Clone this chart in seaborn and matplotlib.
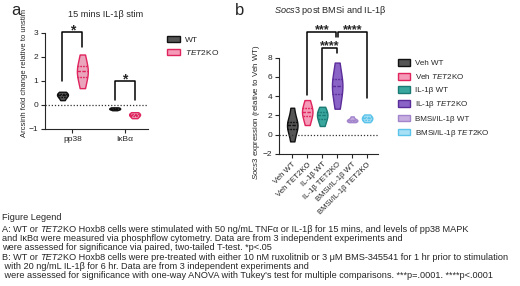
import numpy as np
import pandas as pd
import matplotlib
matplotlib.use("Agg")
import matplotlib.pyplot as plt
import matplotlib.patches as mpatches
from matplotlib.transforms import offset_copy
import seaborn as sns

sns.set_style("ticks")
plt.rcParams['font.family'] = ['Liberation Sans', 'DejaVu Sans']
plt.rcParams['mathtext.fontset'] = 'custom'
plt.rcParams['mathtext.rm'] = 'Liberation Sans'
plt.rcParams['mathtext.it'] = 'Liberation Sans:italic'

# ---- panel a data ----
targets = ['pp38', 'IκBα']
genos = ['WT', 'TET2KO']
a_vals = {
    ('pp38', 'WT'): [0.2, 0.32, 0.4, 0.42, 0.48, 0.55],
    ('pp38', 'TET2KO'): [0.7, 1.1, 1.35, 1.45, 1.7, 2.1],
    ('IκBα', 'WT'): [-0.22, -0.18, -0.16, -0.15, -0.12, -0.1],
    ('IκBα', 'TET2KO'): [-0.55, -0.48, -0.42, -0.4, -0.35, -0.3],
}
a_fill = {'WT': '#555555', 'TET2KO': '#f59ab8'}
a_edge = {'WT': '#111111', 'TET2KO': '#e0245e'}

# ---- panel b data ----
groups = ['Veh WT', 'Veh TET2KO', 'IL-1β WT', 'IL-1β TET2KO',
          'BMSi/IL-1β WT', 'BMSi/IL-1β TET2KO']
legend_b = ['Veh WT', r'Veh $\it{TET2}$KO', 'IL-1β WT', r'IL-1β $\it{TET2}$KO',
            'BMSi/IL-1β WT', r'BMSi/IL-1β $\it{TET2}$KO']
b_vals = [
    [-0.7, 0.5, 0.9, 1.1, 1.4, 2.8],
    [1.0, 1.8, 2.2, 2.5, 2.9, 3.6],
    [0.9, 1.5, 1.9, 2.1, 2.4, 2.9],
    [2.7, 4.0, 4.9, 5.3, 6.0, 7.5],
    [1.3, 1.4, 1.5, 1.5, 1.6, 1.9],
    [1.3, 1.5, 1.65, 1.75, 1.9, 2.1],
]
b_fill = ['#555555', '#f59ab8', '#3aa79e', '#8a63c6', '#c6aee0', '#a8e0f5']
b_edge = ['#111111', '#e0245e', '#1b7b74', '#5b2d9a', '#a385cc', '#5cc4ea']

fig = plt.figure(figsize=(5.2, 2.86), dpi=100)

# ================= panel a =================
axa = fig.add_axes([0.087, 0.549, 0.198, 0.336])
rows = []
for (t, g), v in a_vals.items():
    for x in v:
        rows.append({'target': t, 'geno': g, 'val': x})
dfa = pd.DataFrame(rows)
for g in genos:
    sub = dfa[dfa.geno == g]
    sns.violinplot(data=sub, x='target', y='val', hue='geno', order=targets,
                   hue_order=genos, palette={g: a_fill[g] for g in genos},
                   linecolor=a_edge[g], linewidth=1, inner='quart', cut=0,
                   dodge=True, width=0.76, gap=0.45, density_norm='width',
                   legend=False, ax=axa)
axa.axhline(0, color='#333333', lw=0.9, ls=(0, (1, 1.5)))
axa.set_ylim(-1, 3)
axa.set_xlim(-0.52, 1.45)
axa.set_yticks([-1, 0, 1, 2, 3])
axa.set_xlabel('')
axa.set_ylabel('Arcsinh fold change relative to unstim', fontsize=5.5)
axa.yaxis.set_label_coords(-0.17, 0.58)
axa.tick_params(labelsize=6, width=0.8, length=3, pad=2)
for s in ['top', 'right']:
    axa.spines[s].set_visible(False)

def bracket(ax, x1, x2, y, h1, h2, label, fs=10, dy=0.0):
    ax.plot([x1, x1, x2, x2], [h1, y, y, h2], color='black', lw=1.1,
            clip_on=False)
    ax.text((x1 + x2) / 2, y + dy, label, ha='center', va='bottom',
            fontsize=fs, fontweight='bold', clip_on=False)

bracket(axa, -0.19, 0.19, 3.02, 0.98, 2.4, '*', dy=-0.22)
bracket(axa, 0.81, 1.19, 1.0, 0.22, 0.22, '*', dy=-0.22)
fig.text(0.204, 0.948, '15 mins IL-1β stim', ha='center', va='center',
         fontsize=6.6)

handles_a = [mpatches.Patch(facecolor=a_fill[g], edgecolor=a_edge[g], lw=1)
             for g in genos]
fig.legend(handles_a, ['WT', r'$\it{TET2}$KO'], loc='upper left',
           bbox_to_anchor=(0.322, 0.875), frameon=False, fontsize=6,
           handlelength=1.5, handleheight=0.8, labelspacing=0.5,
           handletextpad=0.6, borderaxespad=0, borderpad=0)

# ================= panel b =================
axb = fig.add_axes([0.537, 0.462, 0.19, 0.336])
dfb = pd.DataFrame([{'group': g, 'val': x} for g, v in zip(groups, b_vals)
                    for x in v])
for i, g in enumerate(groups):
    sub = dfb[dfb.group == g]
    sns.violinplot(data=sub, x='group', y='val', order=groups,
                   color=b_fill[i], linecolor=b_edge[i], linewidth=1,
                   inner='quart', cut=0, width=0.7, density_norm='width',
                   saturation=1, ax=axb)
axb.axhline(0, color='#333333', lw=0.9, ls=(0, (1, 1.5)))
axb.set_ylim(-2, 8)
axb.set_xlim(-0.87, 5.73)
axb.set_yticks([-2, 0, 2, 4, 6, 8])
axb.set_xlabel('')
axb.set_ylabel(r'$\it{Socs3}$ expression (relative to Veh WT)', fontsize=5.7)
axb.yaxis.set_label_coords(-0.17, 0.44)
axb.set_xticks(range(len(groups)))
axb.set_xticklabels(groups, rotation=45, ha='right', rotation_mode='anchor')
axb.tick_params(labelsize=6, width=0.8, length=3, pad=2)
axb.tick_params(axis='x', labelsize=5.6)
for s in ['top', 'right']:
    axb.spines[s].set_visible(False)

bracket(axb, 1, 2.95, 10.7, 4.1, 10.2, '***', fs=9, dy=-0.5)
bracket(axb, 3.05, 5, 10.7, 10.2, 3.8, '****', fs=9, dy=-0.5)
bracket(axb, 2, 3, 9.05, 3.6, 8.5, '****', fs=9, dy=-0.5)
fig.text(0.635, 0.965, r'$\it{Socs3}$ post BMSi and IL-1β', ha='center',
         va='center', fontsize=6.6)

handles_b = [mpatches.Patch(facecolor=f, edgecolor=e, lw=1)
             for f, e in zip(b_fill, b_edge)]
fig.legend(handles_b, legend_b, loc='upper left',
           bbox_to_anchor=(0.765, 0.792), frameon=False, fontsize=5.8,
           handlelength=1.5, handleheight=0.8, labelspacing=0.62,
           handletextpad=0.6, borderaxespad=0, borderpad=0)

# panel labels
fig.text(0.022, 0.965, 'a', fontsize=12, va='center')
fig.text(0.452, 0.965, 'b', fontsize=12, va='center')

# figure legend text; each line is a list of (text, italic) pieces
legend_lines = [
    [('Figure Legend', False)],
    [('A: WT or ', False), ('TET2', True),
     ('KO Hoxb8 cells were stimulated with 50 ng/mL TNFα or IL-1β for 15 mins, and levels of pp38 MAPK', False)],
    [('and IκBα were measured via phosphflow cytometry. Data are from 3 independent experiments and', False)],
    [('were assessed for significance via paired, two-tailed T-test. *p<.05', False)],
    [('B: WT or ', False), ('TET2', True),
     ('KO Hoxb8 cells were pre-treated with either 10 nM ruxolitnib or 3 μM BMS-345541 for 1 hr prior to stimulation', False)],
    [(' with 20 ng/mL IL-1β for 6 hr. Data are from 3 independent experiments and', False)],
    [(' were assessed for significance with one-way ANOVA with Tukey\'s test for multiple comparisons. ***p=.0001. ****p<.0001', False)],
]
ys = [218, 229, 238.3, 247.7, 257, 266.3, 275.5]
renderer = fig.canvas.get_renderer()
for y, pieces in zip(ys, legend_lines):
    x_px = 2.0
    for txt, ital in pieces:
        t = fig.text(0, 1 - y / 286, txt, fontsize=6.6, va='center',
                     ha='left', style='italic' if ital else 'normal',
                     transform=offset_copy(fig.transFigure, fig=fig,
                                           x=x_px * 72 / 100, y=0,
                                           units='points'))
        x_px += t.get_window_extent(renderer).width

fig.savefig('out.png', dpi=100)
